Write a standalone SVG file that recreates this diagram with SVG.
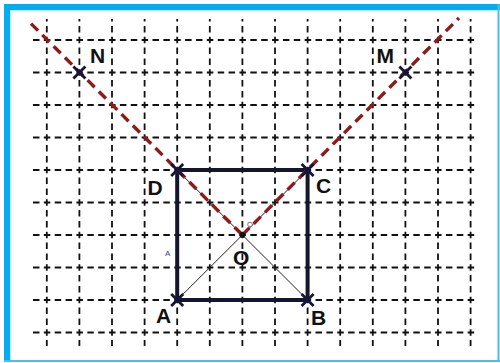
<svg xmlns="http://www.w3.org/2000/svg" width="500" height="363" viewBox="0 0 500 363">
<style>
.gh{stroke:#111;stroke-width:1.8;stroke-dasharray:6.5 4.367;stroke-dashoffset:8.9;fill:none}
.gv{stroke:#111;stroke-width:1.8;stroke-dasharray:6.5 4.333;stroke-dashoffset:3.9;fill:none}
.side{stroke:#15152e;stroke-width:4;fill:none;stroke-linecap:square}
.diag{stroke:#222;stroke-width:1;fill:none}
.red{stroke:#8e1b1b;stroke-width:3.4;stroke-dasharray:10 6;fill:none}
.x{stroke:#15153a;stroke-width:2.8;fill:none}
.lbl{font-family:"Liberation Sans",Arial,sans-serif;font-weight:bold;font-size:21px;fill:#111}
</style>
<rect x="0" y="0" width="500" height="363" fill="#fff"/>
<g id="frame">
<rect x="4" y="4" width="496" height="6" fill="#00adef"/>
<rect x="4" y="4" width="6" height="358" fill="#00adef"/>
<rect x="10" y="10" width="1" height="351" fill="#bfe9fb"/>
<rect x="10" y="10" width="488" height="1" fill="#bfe9fb"/>
<rect x="497.5" y="4" width="2" height="358" fill="#45c1f0"/>
<rect x="4" y="360" width="496" height="2" fill="#45c1f0"/>
</g>
<g id="grid">
<line class="gh" x1="31" y1="40" x2="477" y2="40"/>
<line class="gh" x1="31" y1="72.5" x2="477" y2="72.5"/>
<line class="gh" x1="31" y1="105" x2="477" y2="105"/>
<line class="gh" x1="31" y1="137.5" x2="477" y2="137.5"/>
<line class="gh" x1="31" y1="170" x2="477" y2="170"/>
<line class="gh" x1="31" y1="202.5" x2="477" y2="202.5"/>
<line class="gh" x1="31" y1="235" x2="477" y2="235"/>
<line class="gh" x1="31" y1="267.5" x2="477" y2="267.5"/>
<line class="gh" x1="31" y1="300" x2="477" y2="300"/>
<line class="gh" x1="31" y1="332.5" x2="477" y2="332.5"/>
<line class="gv" x1="46.8" y1="19" x2="46.8" y2="346"/>
<line class="gv" x1="79.4" y1="19" x2="79.4" y2="346"/>
<line class="gv" x1="112" y1="19" x2="112" y2="346"/>
<line class="gv" x1="144.6" y1="19" x2="144.6" y2="346"/>
<line class="gv" x1="177.2" y1="19" x2="177.2" y2="346"/>
<line class="gv" x1="209.8" y1="19" x2="209.8" y2="346"/>
<line class="gv" x1="242.4" y1="19" x2="242.4" y2="346"/>
<line class="gv" x1="275" y1="19" x2="275" y2="346"/>
<line class="gv" x1="307.6" y1="19" x2="307.6" y2="346"/>
<line class="gv" x1="340.2" y1="19" x2="340.2" y2="346"/>
<line class="gv" x1="372.8" y1="19" x2="372.8" y2="346"/>
<line class="gv" x1="405.4" y1="19" x2="405.4" y2="346"/>
<line class="gv" x1="438" y1="19" x2="438" y2="346"/>
<line class="gv" x1="470.6" y1="19" x2="470.6" y2="346"/>
</g>
<g id="connectors">
<line class="diag" x1="177.2" y1="300" x2="307.6" y2="170"/>
<line class="diag" x1="177.2" y1="170" x2="307.6" y2="300"/>
<polygon class="side" points="177.2,170 307.6,170 307.6,300 177.2,300"/>
<line class="red" x1="31" y1="23.6" x2="242.4" y2="235"/>
<line class="red" x1="242.4" y1="235" x2="459" y2="18"/>
<circle cx="250" cy="224.5" r="2.3" fill="#fff" stroke="#777" stroke-width="1"/>
<text x="165" y="256" font-family="Liberation Sans,Arial,sans-serif" font-size="8" fill="#3a3a9a">A</text>
</g>
<g id="A"><path class="x" d="M171.2 294l12 12M183.2 294l-12 12"/><text class="lbl" x="156" y="323">A</text></g>
<g id="B"><path class="x" d="M301.6 294l12 12M313.6 294l-12 12"/><text class="lbl" x="311" y="325">B</text></g>
<g id="C"><path class="x" d="M301.6 164l12 12M313.6 164l-12 12"/><text class="lbl" x="316" y="193">C</text></g>
<g id="D"><path class="x" d="M171.2 164l12 12M183.2 164l-12 12"/><text class="lbl" x="147.5" y="195">D</text></g>
<g id="O"><circle cx="242.4" cy="235" r="3" fill="#111"/><text class="lbl" x="233" y="265">O</text></g>
<g id="N"><path class="x" d="M73.4 66.5l12 12M85.4 66.5l-12 12"/><text class="lbl" x="90" y="63">N</text></g>
<g id="M"><path class="x" d="M399.4 66.5l12 12M411.4 66.5l-12 12"/><text class="lbl" x="376.5" y="63">M</text></g>
</svg>
